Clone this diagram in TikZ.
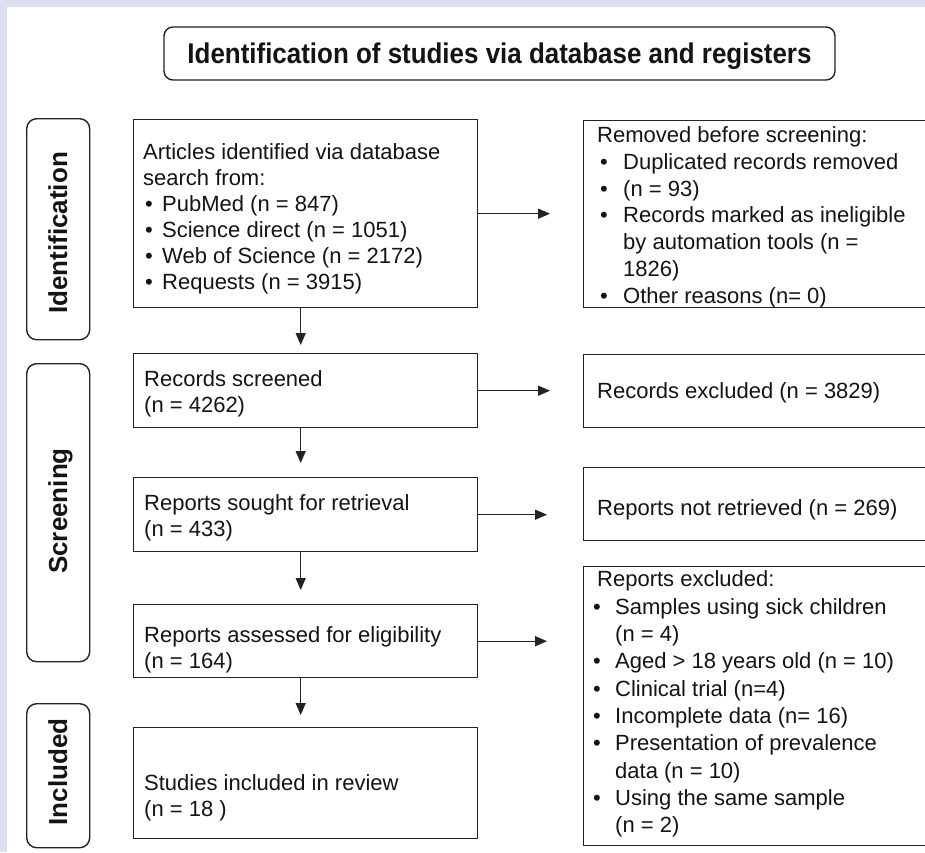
\documentclass[tikz,border=0pt]{standalone}
\usepackage{fontspec}
\setmainfont{Liberation Sans}
\newfontfamily\titlefont{Liberation Sans}[FakeStretch=0.91]
\usetikzlibrary{arrows.meta}
\definecolor{lav}{RGB}{221,224,240}
\definecolor{ink}{RGB}{35,35,35}
\definecolor{txtc}{RGB}{20,20,20}
\newcommand{\mybul}[2]{\makebox[#2pt][l]{\hspace{#1pt}•}}
\begin{document}
\begin{tikzpicture}[x=1pt,y=-1pt,
  box/.style={draw=ink, line width=1.4pt, rectangle, inner sep=0pt, anchor=north west},
  pill/.style={draw=ink, line width=1.4pt, rounded corners=10pt, inner sep=0pt, anchor=north west},
  txt/.style={inner sep=0pt, anchor=north west, align=left, text=txtc, font=\fontsize{22}{26.7}\selectfont},
  side/.style={inner sep=0pt, anchor=base, rotate=90, text=txtc, font=\bfseries\fontsize{26}{30}\selectfont},
  arr/.style={draw=ink, line width=1.4pt, -{Triangle[length=12pt,width=10pt]}}]

\useasboundingbox (0,0) rectangle (925,852);
\fill[lav] (0,0) rectangle (925,852);
\fill[white] (7,7) rectangle (925,852);
\clip (0,0) rectangle (925,852);

% title
\node[draw=ink, line width=1.4pt, rounded corners=9pt, minimum width=671pt, minimum height=53pt,
      inner sep=0pt, text depth=0pt, text=txtc, font=\titlefont\bfseries\fontsize{28.5}{32}\selectfont]
      (title) at (499.5,53.5) {Identification of studies via database and registers};

% phase pills
\node[pill, minimum width=63pt, minimum height=221pt] (idp) at (26,118) {};
\node[pill, minimum width=63pt, minimum height=298pt] (scp) at (26,363) {};
\node[pill, minimum width=63pt, minimum height=144pt] (inp) at (26,703) {};
\node[side] (idl) at (67,233) {Identification};
\node[side] (scl) at (67,511) {Screening};
\node[side] (inl) at (67,772) {Included};

% left column boxes
\node[box, minimum width=344pt, minimum height=188pt] (ids) at (133,119) {};
\node[box, minimum width=344pt, minimum height=74pt] (scr) at (133,353) {};
\node[box, minimum width=344pt, minimum height=74pt] (sou) at (133,477) {};
\node[box, minimum width=344pt, minimum height=73pt] (ass) at (133,604) {};
\node[box, minimum width=344pt, minimum height=111pt] (inc) at (133,727) {};

% right column boxes
\node[box, minimum width=352pt, minimum height=187pt] (rem) at (583,120) {};
\node[box, minimum width=352pt, minimum height=73pt] (rex) at (583,354) {};
\node[box, minimum width=352pt, minimum height=73pt] (rnr) at (583,467) {};
\node[box, minimum width=352pt, minimum height=279pt] (rpe) at (583,566) {};

% texts
\node[txt, font=\fontsize{22}{26}\selectfont] (idst) at (143,140.8) {\strut Articles identified via database\\
search from:\\
\mybul{2}{19}PubMed (n = 847)\\
\mybul{2}{19}Science direct (n = 1051)\\
\mybul{2}{19}Web of Science (n = 2172)\\
\mybul{2}{19}Requests (n = 3915)};
\node[txt] (scrt) at (144,367.3) {\strut Records screened\\(n = 4262)};
\node[txt] (sout) at (144,491.3) {\strut Reports sought for retrieval\\(n = 433)};
\node[txt] (asst) at (144,623.3) {\strut Reports assessed for eligibility\\(n = 164)};
\node[txt] (inct) at (144,771.3) {\strut Studies included in review\\(n = 18 )};

\node[txt] (remt) at (597,124) {\strut Removed before screening:\\
\mybul{3}{26}Duplicated records removed\\
\mybul{3}{26}(n = 93)\\
\mybul{3}{26}Records marked as ineligible\\
\hspace{26pt}by automation tools (n =\\
\hspace{26pt}1826)\\
\mybul{3}{26}Other reasons (n= 0)};
\node[txt] (rext) at (597,379.6) {\strut Records excluded (n = 3829)};
\node[txt] (rnrt) at (597,496.3) {\strut Reports not retrieved (n = 269)};
\node[txt, font=\fontsize{22}{27.3}\selectfont] (rpet) at (597,567.6) {\strut Reports excluded:\\
\mybul{-4}{18}Samples using sick children\\
\hspace{18pt}(n = 4)\\
\mybul{-4}{18}Aged > 18 years old (n = 10)\\
\mybul{-4}{18}Clinical trial (n=4)\\
\mybul{-4}{18}Incomplete data (n= 16)\\
\mybul{-4}{18}Presentation of prevalence\\
\hspace{18pt}data (n = 10)\\
\mybul{-4}{18}Using the same sample\\
\hspace{18pt}(n = 2)};

% vertical arrows
\draw[arr] ([xshift=-5pt]ids.south) -- ([xshift=-5pt,yshift=8pt]scr.north);
\draw[arr] ([xshift=-5pt]scr.south) -- ([xshift=-5pt,yshift=14pt]sou.north);
\draw[arr] ([xshift=-5pt]sou.south) -- ([xshift=-5pt,yshift=14pt]ass.north);
\draw[arr] ([xshift=-5pt]ass.south) -- ([xshift=-5pt,yshift=12pt]inc.north);

% horizontal arrows
\draw[arr] (ids.east) -- ([xshift=-33pt]rem.west |- ids.east);
\draw[arr] (scr.east) -- ([xshift=-33pt]rex.west |- scr.east);
\draw[arr] (sou.east) -- ([xshift=-36pt]rnr.west |- sou.east);
\draw[arr] (ass.east) -- ([xshift=-36pt]rpe.west |- ass.east);
\end{tikzpicture}
\end{document}
